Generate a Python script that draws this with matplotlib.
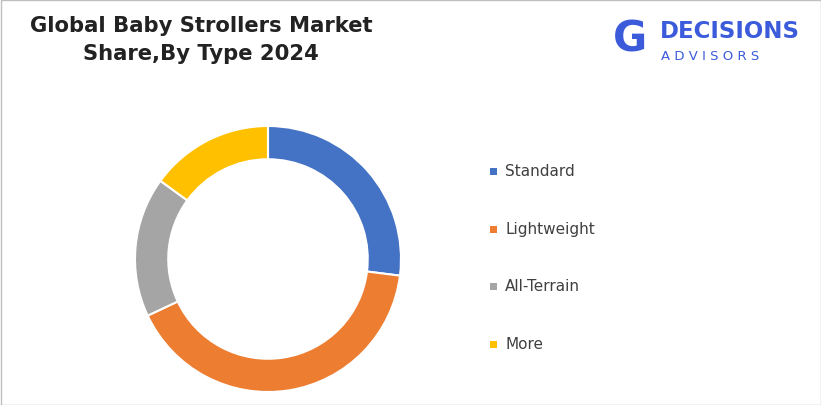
import matplotlib
matplotlib.use("Agg")
import matplotlib.pyplot as plt
from matplotlib.patches import Rectangle

categories = ["Standard", "Lightweight", "All-Terrain", "More"]
shares = [27, 41, 17, 15]
colors = ["#4472C4", "#ED7D31", "#A5A5A5", "#FFC000"]

W, H = 821, 406
fig = plt.figure(figsize=(W/100, H/100), dpi=100)
fig.patches.append(Rectangle((0.5/W, 0.5/H), 1-1/W, 1-1/H, transform=fig.transFigure,
                             fill=False, edgecolor="#BFBFBF", lw=1))

cx, cy, r = 268, 260, 133
ax = fig.add_axes([(cx-r)/W, (H-cy-r)/H, 2*r/W, 2*r/H])
ax.pie(shares, colors=colors, startangle=90, counterclock=False,
       wedgeprops=dict(width=0.25, edgecolor="white", linewidth=1.5))
ax.set_xlim(-1, 1); ax.set_ylim(-1, 1); ax.set_aspect("equal"); ax.axis("off")

fig.text(201/W, 1-40/H, "Global Baby Strollers Market\nShare,By Type 2024", ha="center", va="center",
         fontsize=15.2, fontweight="bold", color="#222222", linespacing=1.5)

ys = [172, 230, 287, 345]
for cat, col, y in zip(categories, colors, ys):
    fig.patches.append(Rectangle((490/W, 1-(y+4)/H), 7/W, 7/H, transform=fig.transFigure,
                                 facecolor=col, edgecolor="none"))
    fig.text(505/W, 1-y/H, cat, ha="left", va="center", fontsize=11, color="#404040")

# logo
fig.text(660/W, 1-31/H, "DECISIONS", ha="left", va="center", fontsize=16.5, fontweight="bold", color="#3B5BDB")
fig.text(661/W, 1-56/H, "A D V I S O R S", ha="left", va="center", fontsize=9.5, color="#3B5BDB")
fig.text(630/W, 1-40/H, "G", ha="center", va="center", fontsize=30, fontweight="bold", color="#3B5BDB")

fig.savefig("out.png", dpi=100)
